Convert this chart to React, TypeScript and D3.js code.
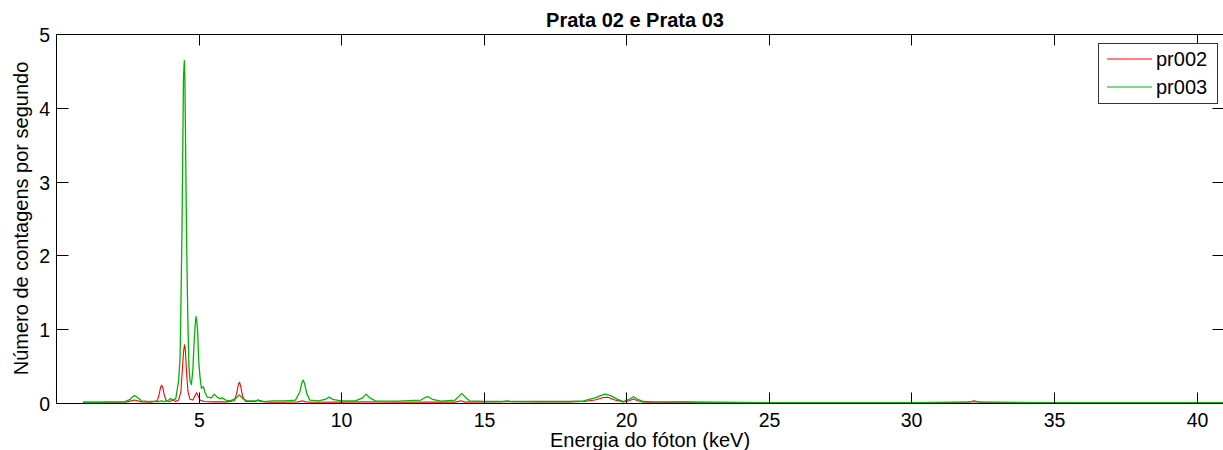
import React from "react";
import * as d3 from "d3";

// ---- data ----
const xTicks = [5, 10, 15, 20, 25, 30, 35, 40];
const yTicks = [0, 1, 2, 3, 4, 5];
const seriesNames = ["pr002", "pr003"];
const seriesColors = ["#ff0000", "#00b400"];

const pr002Energy = [
  0.95, 1.5, 2.0, 2.5, 2.65, 2.75, 2.85, 3.0, 3.3, 3.55, 3.62, 3.67, 3.71, 3.75, 3.8, 3.87,
  4.0, 4.1, 4.2, 4.3, 4.38, 4.43, 4.48, 4.51, 4.54, 4.58, 4.63, 4.7, 4.8, 4.88, 4.93, 4.98,
  5.05, 5.2, 5.5, 6.0, 6.25, 6.33, 6.4, 6.44, 6.48, 6.55, 6.65, 7.0, 7.08, 7.15, 7.5, 8.0,
  8.5, 8.64, 8.75, 9.0, 10.0, 11.0, 12.0, 13.0, 14.0, 14.2, 14.35, 15.0, 16.0, 17.0, 18.0,
  18.5, 18.9, 19.2, 19.35, 19.6, 19.9, 20.1, 20.25, 20.4, 20.6, 21.0, 22.0, 22.5, 25.0,
  30.0, 32.0, 32.2, 32.4, 35.0, 40.96,
];
const pr002Counts = [
  0.01, 0.01, 0.012, 0.015, 0.03, 0.04, 0.03, 0.015, 0.01, 0.03, 0.12, 0.22, 0.24, 0.2, 0.1, 0.03,
  0.02, 0.04, 0.02, 0.04, 0.15, 0.45, 0.72, 0.79, 0.7, 0.4, 0.15, 0.05, 0.04, 0.1, 0.14, 0.1,
  0.04, 0.02, 0.015, 0.015, 0.03, 0.12, 0.26, 0.28, 0.22, 0.08, 0.02, 0.02, 0.04, 0.02, 0.01, 0.01,
  0.015, 0.03, 0.015, 0.01, 0.012, 0.015, 0.01, 0.012, 0.012, 0.03, 0.012, 0.015, 0.018, 0.015, 0.015,
  0.02, 0.04, 0.075, 0.077, 0.04, 0.015, 0.03, 0.054, 0.03, 0.01, 0.01, 0.012, 0.008, 0.006,
  0.006, 0.01, 0.03, 0.01, 0.005, 0.005,
];

const pr003Energy = [
  0.95, 1.5, 2.0, 2.4, 2.6, 2.7, 2.75, 2.8, 2.9, 3.0, 3.3, 3.6, 3.7, 3.8, 3.95, 4.02, 4.1, 4.2,
  4.3, 4.35, 4.38, 4.42, 4.45, 4.47, 4.5, 4.52, 4.55, 4.58, 4.62, 4.66, 4.7, 4.75, 4.8, 4.84,
  4.88, 4.91, 4.94, 4.97, 5.0, 5.05, 5.1, 5.17, 5.22, 5.3, 5.45, 5.55, 5.65, 5.75, 5.83, 5.95,
  6.1, 6.3, 6.43, 6.55, 6.7, 7.0, 7.1, 7.3, 7.6, 8.0, 8.4, 8.55, 8.62, 8.67, 8.72, 8.8, 8.9,
  9.2, 9.45, 9.58, 9.7, 10.0, 10.5, 10.75, 10.87, 11.0, 11.2, 12.0, 12.8, 12.95, 13.05, 13.2,
  13.5, 14.0, 14.15, 14.23, 14.35, 14.5, 15.0, 15.6, 15.8, 16.0, 17.0, 18.0, 18.5, 18.9, 19.1,
  19.25, 19.45, 19.7, 19.9, 20.1, 20.25, 20.4, 20.6, 21.0, 22.0, 22.5, 25.0, 30.0, 32.2, 35.0,
  40.96,
];
const pr003Counts = [
  0.01, 0.01, 0.012, 0.015, 0.05, 0.09, 0.1, 0.09, 0.06, 0.03, 0.02, 0.02, 0.03, 0.02, 0.04, 0.06, 0.04, 0.06,
  0.3, 0.6, 1.3, 2.4, 3.6, 4.4, 4.64, 4.38, 3.3, 2.2, 1.2, 0.5, 0.3, 0.25, 0.45, 0.8,
  1.05, 1.17, 1.1, 0.95, 0.6, 0.35, 0.2, 0.22, 0.15, 0.08, 0.07, 0.12, 0.08, 0.06, 0.07, 0.04,
  0.03, 0.06, 0.11, 0.06, 0.03, 0.03, 0.04, 0.02, 0.03, 0.03, 0.04, 0.15, 0.27, 0.31, 0.26, 0.12, 0.04,
  0.03, 0.05, 0.08, 0.05, 0.03, 0.03, 0.07, 0.12, 0.07, 0.03, 0.025, 0.04, 0.075, 0.085, 0.05,
  0.025, 0.04, 0.1, 0.13, 0.08, 0.03, 0.02, 0.02, 0.03, 0.02, 0.02, 0.02, 0.03, 0.07, 0.1,
  0.12, 0.1, 0.05, 0.02, 0.05, 0.085, 0.05, 0.02, 0.015, 0.015, 0.01, 0.006, 0.006, 0.015, 0.005,
  0.005,
];

const W = 1223;
const H = 450;
const M = { left: 56, top: 34, right: 1224, bottom: 403 };
const FONT = "Arial, 'Liberation Sans', Helvetica, sans-serif";

export default function App() {
  const x = d3.scaleLinear().domain([0, 40.96]).range([M.left, M.right]);
  const y = d3.scaleLinear().domain([0, 5]).range([M.bottom, M.top]);
  const line = d3
    .line<[number, number]>()
    .x((d) => x(d[0]))
    .y((d) => y(d[1]));

  const s1 = pr002Energy.map((e, i) => [e, pr002Counts[i]] as [number, number]);
  const s2 = pr003Energy.map((e, i) => [e, pr003Counts[i]] as [number, number]);

  const L = M.left + 0.5;
  const T = M.top + 0.5;
  const B = M.bottom + 0.5;
  const R = M.right - 0.5;

  return (
    <svg
      width={W}
      height={H}
      style={{ position: "fixed", left: 0, top: 0, background: "#fff" }}
      fontFamily={FONT}
    >
      <rect x={0} y={0} width={W} height={H} fill="#fff" />
      <defs>
        <clipPath id="plot">
          <rect x={M.left} y={M.top} width={M.right - M.left} height={M.bottom - M.top} />
        </clipPath>
      </defs>
      <g clipPath="url(#plot)">
        <path d={line(s1) || ""} fill="none" stroke={seriesColors[0]} strokeWidth={1.1} strokeLinejoin="round" />
        <path d={line(s2) || ""} fill="none" stroke={seriesColors[1]} strokeWidth={1.3} strokeLinejoin="round" />
      </g>
      {/* axes box */}
      <path d={`M${L},${T}H${R}V${B}H${L}Z`} fill="none" stroke="#000" strokeWidth={1} />
      {/* x ticks */}
      {xTicks.map((t) => {
        const px = Math.round(x(t)) + 0.5;
        return (
          <g key={"x" + t}>
            <line x1={px} x2={px} y1={B} y2={B - 11} stroke="#000" />
            <line x1={px} x2={px} y1={T} y2={T + 11} stroke="#000" />
            <text x={px} y={427} fontSize={19.5} textAnchor="middle" fill="#000">
              {t}
            </text>
          </g>
        );
      })}
      {/* y ticks */}
      {yTicks.map((t) => {
        const py = Math.round(y(t)) + 0.5;
        return (
          <g key={"y" + t}>
            <line x1={L} x2={L + 12} y1={py} y2={py} stroke="#000" />
            <line x1={R} x2={R - 11} y1={py} y2={py} stroke="#000" />
            <text x={50} y={py + 7} fontSize={19.5} textAnchor="end" fill="#000">
              {t}
            </text>
          </g>
        );
      })}
      {/* title */}
      <text x={635} y={27} fontSize={20} fontWeight="bold" textAnchor="middle" fill="#000">
        Prata 02 e Prata 03
      </text>
      {/* axis labels */}
      <text x={650} y={447} fontSize={20} textAnchor="middle" fill="#000">
        Energia do fóton (keV)
      </text>
      <text
        transform={`translate(28,${(M.top + M.bottom) / 2}) rotate(-90)`}
        fontSize={20}
        textAnchor="middle"
        fill="#000"
      >
        Número de contagens por segundo
      </text>
      {/* legend */}
      <rect x={1098.5} y={43.5} width={119} height={60} fill="#fff" stroke="#333" />
      {seriesNames.map((n, i) => (
        <g key={n}>
          <line x1={1107} x2={1152} y1={59 + i * 28} y2={59 + i * 28} stroke={seriesColors[i]} strokeWidth={1.1} />
          <text x={1156} y={66 + i * 28} fontSize={20} fill="#000">
            {n}
          </text>
        </g>
      ))}
    </svg>
  );
}
